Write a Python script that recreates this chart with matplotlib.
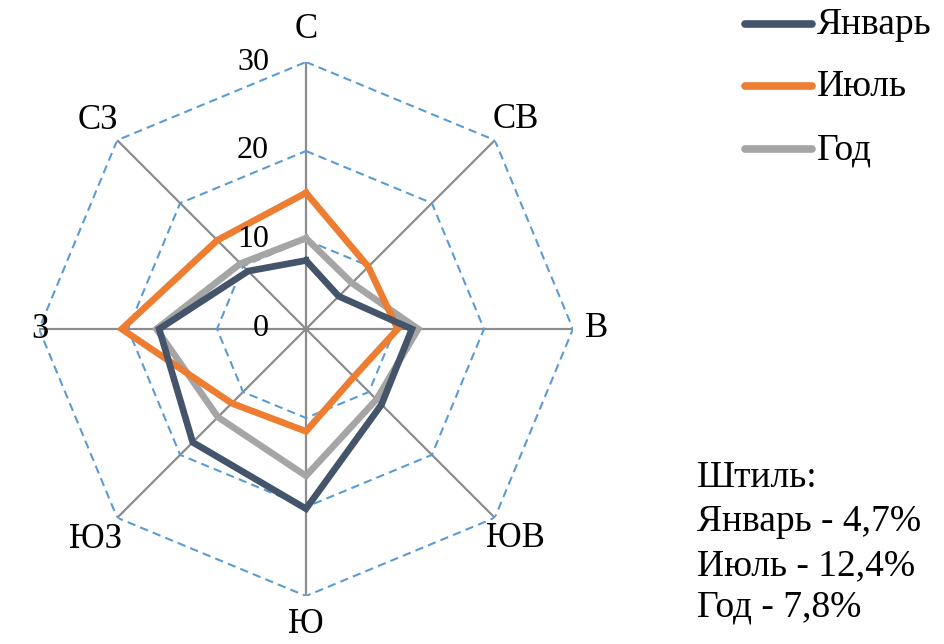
import numpy as np
import matplotlib
matplotlib.use("Agg")
import matplotlib.pyplot as plt
from matplotlib.lines import Line2D
from matplotlib.transforms import offset_copy

directions = ["С", "СВ", "В", "ЮВ", "Ю", "ЮЗ", "З", "СЗ"]
january = [7.7, 5.2, 11.9, 12.0, 20.2, 18.0, 16.5, 9.2]
july = [15.3, 9.9, 10.3, 7.6, 11.5, 11.8, 20.7, 14.1]
year = [10.2, 7.3, 12.6, 11.2, 16.5, 14.0, 16.8, 10.4]
series_names = ["Январь", "Июль", "Год"]
series_colors = ["#44546A", "#ED7D31", "#A5A5A5"]
rings = [10, 20, 30]
tick_values = [0, 10, 20, 30]
calm_title = "Штиль:"
calm_lines = ["Январь - 4,7%", "Июль - 12,4%", "Год - 7,8%"]

plt.rcParams['font.family'] = ['Liberation Serif', 'DejaVu Serif']

W, H = 945, 644
fig = plt.figure(figsize=(W / 100, H / 100), dpi=100)
cx, cy, R = 306, 329, 267
ax = fig.add_axes([(cx - R) / W, (H - cy - R) / H, 2 * R / W, 2 * R / H], projection='polar')
ax.set_theta_zero_location('N')
ax.set_theta_direction(-1)
ax.set_ylim(0, 30)
ax.grid(False)
ax.set_xticks([])
ax.set_yticks([])
ax.spines['polar'].set_visible(False)
ax.patch.set_alpha(0)

n = len(directions)
theta = np.arange(n) * 2 * np.pi / n
theta_closed = np.append(theta, theta[0])

# spokes
for t in theta:
    ax.plot([t, t], [0, rings[-1]], color="#8C8C8C", lw=1.6, zorder=1)
# octagon grid
for r in rings:
    ax.plot(theta_closed, [r] * (n + 1), color="#5B9BD5", lw=1.5, ls=(0, (4, 2.5)), zorder=1)

for vals, c in zip([january, july, year][::-1], series_colors[::-1]):
    ax.plot(theta_closed, list(vals) + [vals[0]], color=c, lw=4.8, zorder=3,
            solid_joinstyle='miter')

# radial tick labels
tr = offset_copy(ax.transData, fig=fig, x=-37, y=0, units='dots')
for v in tick_values:
    ax.text(0, v, str(v), transform=tr, ha='right', va='center', fontsize=23, zorder=4)

# direction labels
label_r = [33.6, 33.3, 32.6, 33.3, 33.2, 33.5, 29.9, 33.1]
for t, d, lr in zip(theta, directions, label_r):
    ax.text(t, lr, d, ha='center', va='center', fontsize=25, clip_on=False)

# legend
leg_y = [24, 86, 149]
for name, c, y in zip(series_names, series_colors, leg_y):
    fig.add_artist(Line2D([745 / W, 812 / W], [1 - y / H, 1 - y / H], color=c, lw=5.5,
                          solid_capstyle='round'))
    fig.text(817 / W, 1 - (y + 1) / H, name, ha='left', va='center', fontsize=27)

# calm annotation
base_y = [487, 531, 575, 616]
for txt, by in zip([calm_title] + calm_lines, base_y):
    fig.text(697 / W, 1 - by / H, txt, ha='left', va='baseline', fontsize=27)

fig.savefig("out.png", dpi=100)
